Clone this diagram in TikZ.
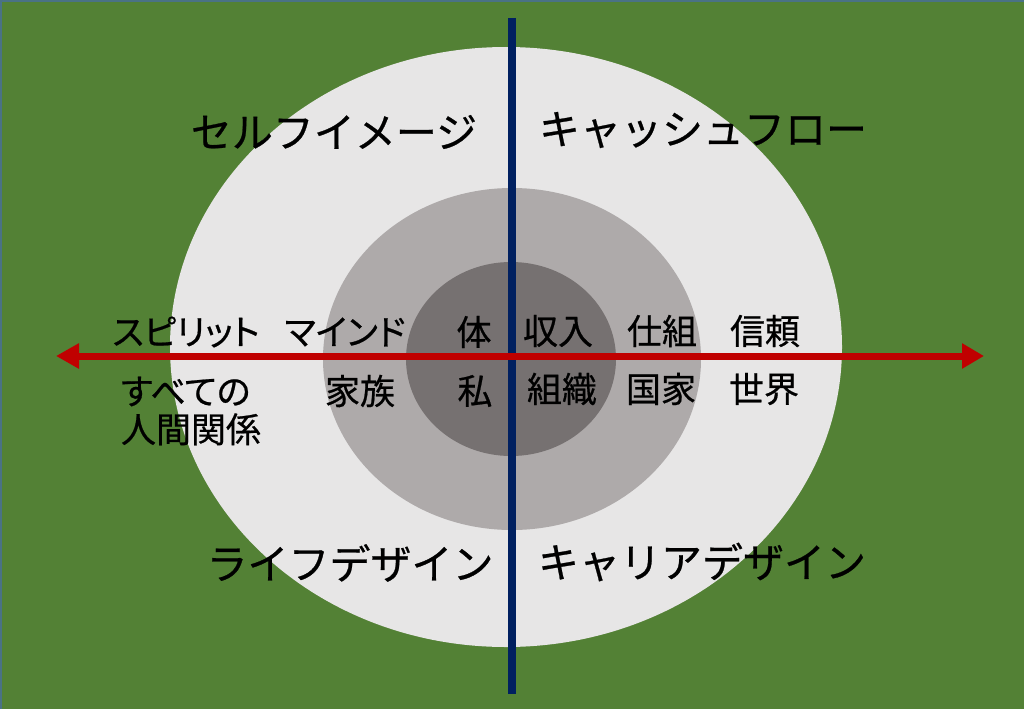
\documentclass[tikz,border=0pt]{standalone}
\usepackage{fontspec}
\newfontfamily\jpfont[FakeBold=0.6]{Noto Sans CJK JP}
\newfontfamily\jpprop[RawFeature=+palt,FakeBold=0.6]{Noto Sans CJK JP}
\usetikzlibrary{arrows.meta}
\definecolor{bggreen}{HTML}{538135}
\definecolor{edgeblue}{HTML}{4A7286}
\definecolor{ringA}{HTML}{E7E6E6}
\definecolor{ringB}{HTML}{AEAAAA}
\definecolor{ringC}{HTML}{767171}
\definecolor{axisblue}{HTML}{002060}
\definecolor{axisred}{HTML}{C00000}
\begin{document}
\begin{tikzpicture}[x=1pt,y=-1pt,
  titletxt/.style={font=\jpfont\fontsize{41}{48}\selectfont, inner sep=0pt, text=black},
  lbltxt/.style={font=\jpprop\fontsize{35}{38}\selectfont, inner sep=0pt, text=black},
  ring/.style={draw=none}]
\useasboundingbox (0,0) rectangle (1024,709);
\fill[bggreen] (0,0) rectangle (1024,709);
\draw[edgeblue, line width=2pt] (1,709) -- (1,1) -- (1024,1);
% rings
\fill[ringA] (506,347) ellipse [x radius=336, y radius=300];
\fill[ringB] (512,359) ellipse [x radius=189, y radius=171];
\fill[ringC] (511,359) ellipse [x radius=105, y radius=97];
% axes
\coordinate (T) at (512,18);
\coordinate (B) at (512,694);
\coordinate (L) at (56,356);
\coordinate (R) at (984,356);
\draw[axisblue, line width=8pt] (T) -- (B);
\draw[axisred, line width=7pt, {Triangle[length=23pt,width=24pt]}-{Triangle[length=22pt,width=24pt]}] (L) -- (R);
% titles
\node[titletxt] (selfimage) at (334,132) {セルフイメージ};
\node[titletxt] (cashflow) at (703,130) {キャッシュフロー};
\node[titletxt] (lifedesign) at (350,563) {ライフデザイン};
\node[titletxt] (careerdesign) at (702,562) {キャリアデザイン};
% upper row
\node[lbltxt] (spirit) at (186,332) {スピリット};
\node[lbltxt] (mind) at (345,332) {マインド};
\node[lbltxt] (body) at (474,332) {体};
\node[lbltxt] (income) at (558,331) {収入};
\node[lbltxt] (system) at (662,331) {仕組};
\node[lbltxt] (trust) at (765,331) {信頼};
% lower row
\node[lbltxt, align=left] (relations) at (191,411) {すべての\\人間関係};
\node[lbltxt] (family) at (360,391) {家族};
\node[lbltxt] (self) at (475,391) {私};
\node[lbltxt] (org) at (562,389) {組織};
\node[lbltxt] (nation) at (661,389) {国家};
\node[lbltxt] (world) at (764,389) {世界};
\end{tikzpicture}
\end{document}
